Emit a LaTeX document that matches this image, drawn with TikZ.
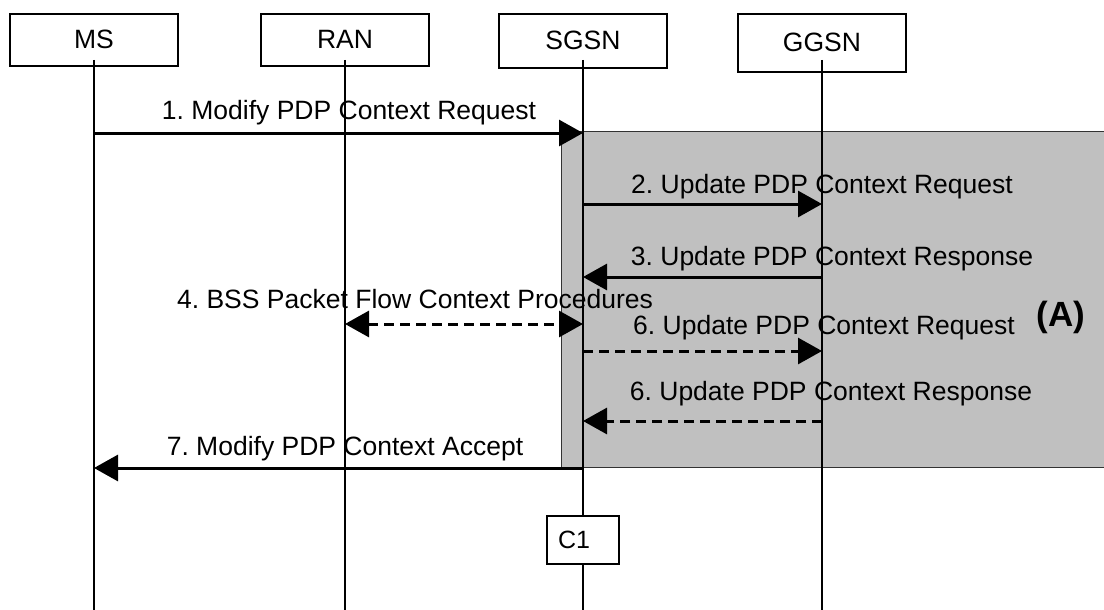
\documentclass[tikz,border=0pt]{standalone}
\usepackage{fontspec}
\setmainfont{Liberation Sans}
\usetikzlibrary{arrows.meta,positioning}
\definecolor{shade}{RGB}{192,192,192}
\frenchspacing

\begin{document}
\begin{tikzpicture}[x=1pt,y=-1pt,
  ent/.style={draw,line width=1.6pt,minimum width=168pt,anchor=north,font=\fontsize{26.5}{30}\selectfont},
  life/.style={line width=1.6pt},
  msg/.style={line width=3pt,-{Triangle[length=24pt,width=26pt]}},
  opt/.style={msg,dash pattern=on 10pt off 6pt},
  lbl/.style={anchor=base,inner sep=0pt,font=\fontsize{26.5}{30}\selectfont}
]
\useasboundingbox (0,0) rectangle (1104,610);
\filldraw[fill=shade,draw=black!80,line width=1pt] (561,131) rectangle (1108,467);
\node[ent,minimum height=52pt] (ms) at (94,13) {MS};
\node[ent,minimum height=52pt] (ran) at (345,13) {RAN};
\node[ent,minimum height=54pt] (sgsn) at (583,13) {SGSN};
\node[ent,minimum height=58pt] (ggsn) at (822,13) {GGSN};
\node[draw,line width=1.6pt,text width=50pt,inner xsep=11pt,minimum height=48pt,align=left,font=\fontsize{25}{30}\selectfont] (c1) at (583,540) {C1};
\coordinate (top) at (0,60);
\coordinate (end) at (0,612);
\draw[life] (ms |- top) -- (ms |- end);
\draw[life] (ran |- top) -- (ran |- end);
\draw[life] (sgsn |- top) -- (c1.north);
\draw[life] (c1.south) -- (sgsn |- end);
\draw[life] (ggsn |- top) -- (ggsn |- end);
\coordinate (r1) at (0,133);
\coordinate (r2) at (0,204);
\coordinate (r3) at (0,277);
\coordinate (r4) at (0,324);
\coordinate (r5) at (0,351);
\coordinate (r6) at (0,421);
\coordinate (r7) at (0,468);
\draw[msg] (ms |- r1) -- (sgsn |- r1);
\draw[msg] (sgsn |- r2) -- (ggsn |- r2);
\draw[msg] (ggsn |- r3) -- (sgsn |- r3);
\draw[opt,{Triangle[length=24pt,width=26pt]}-{Triangle[length=24pt,width=26pt]}] (ran |- r4) -- (sgsn |- r4);
\draw[opt] (sgsn |- r5) -- (ggsn |- r5);
\draw[opt] (ggsn |- r6) -- (sgsn |- r6);
\draw[msg] (sgsn |- r7) -- (ms |- r7);
\node[lbl] (l1) at (349,120) {1. Modify PDP Context Request};
\node[lbl] (l2) at (822,193) {2. Update PDP Context Request};
\node[lbl] (l3) at (832,265) {3. Update PDP Context Response};
\node[lbl] (l4) at (415,308) {4. BSS Packet Flow Context Procedures};
\node[lbl] (l5) at (824,334) {6. Update PDP Context Request};
\node[lbl] (l6) at (831,400) {6. Update PDP Context Response};
\node[lbl] (l7) at (345,455) {7. Modify PDP Context Accept};
\node[lbl,font=\fontsize{35}{40}\selectfont\bfseries] (a) at (1061,326) {(A)};
\end{tikzpicture}
\end{document}
